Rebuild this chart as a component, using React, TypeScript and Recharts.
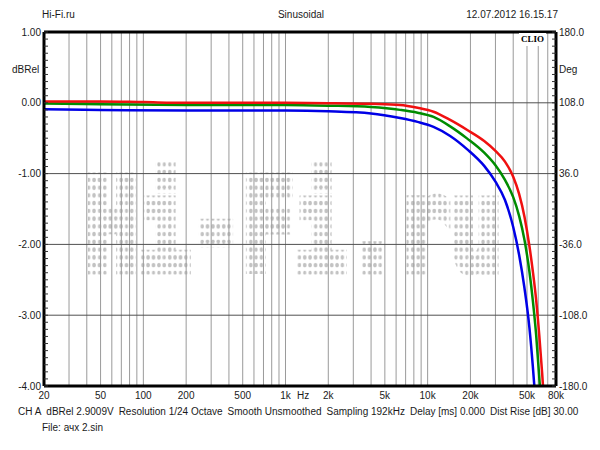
import React from "react";
import { LineChart, Line, XAxis, YAxis, CartesianGrid, ReferenceLine } from "recharts";

// ---- data ----
const redFreq = [20, 50, 100, 200, 1000, 2000, 4000, 6400, 8500, 11000, 14400, 19000, 25000, 30000, 35000, 40000, 44000, 48000, 52000, 55000, 58000, 61000, 63900, 66000, 68000];
const redDb = [0.02, 0.02, 0.01, 0.0, 0.0, -0.005, -0.015, -0.03, -0.07, -0.126, -0.242, -0.384, -0.54, -0.679, -0.831, -1.045, -1.287, -1.609, -2.023, -2.384, -2.784, -3.281, -3.815, -4.24, -4.7];

const greenFreq = [20, 50, 200, 1000, 2000, 4000, 6400, 8500, 11000, 14400, 19000, 25000, 30000, 35000, 40000, 44000, 48000, 52000, 55000, 58000, 61000, 62800, 64000];
const greenDb = [-0.01, -0.02, -0.03, -0.03, -0.04, -0.06, -0.1, -0.14, -0.2, -0.333, -0.506, -0.705, -0.883, -1.09, -1.333, -1.597, -1.936, -2.383, -2.798, -3.278, -3.874, -4.25, -4.6];

const blueFreq = [20, 50, 200, 1000, 2000, 4000, 6400, 8500, 11000, 14400, 19000, 25000, 30000, 35000, 40000, 44000, 48000, 52000, 55000, 56300, 58000];
const blueDb = [-0.09, -0.1, -0.11, -0.11, -0.12, -0.15, -0.215, -0.27, -0.34, -0.468, -0.657, -0.891, -1.114, -1.373, -1.754, -2.145, -2.616, -3.174, -3.729, -3.996, -4.34];

const xGridTicks = [20, 30, 40, 50, 60, 70, 80, 90, 100, 200, 300, 400, 500, 600, 700, 800, 900, 1000, 2000, 3000, 4000, 5000, 6000, 7000, 8000, 9000, 10000, 20000, 30000, 40000, 50000, 60000, 70000, 80000];
const xLabelValues = [20, 50, 100, 200, 500, 1000, 2000, 5000, 10000, 20000, 50000, 80000];
const xLabelTexts = ["20", "50", "100", "200", "500", "1k", "2k", "5k", "10k", "20k", "50k", "80k"];

const leftMajor = [1, 0, -1, -2, -3, -4];
const rightMajor = [180, 108, 36, -36, -108, -180];

const footerItems = [
  "CH A",
  "dBRel 2.9009V",
  "Resolution 1/24 Octave",
  "Smooth Unsmoothed",
  "Sampling 192kHz",
  "Delay [ms] 0.000",
  "Dist Rise [dB] 30.00",
];

const redData = redFreq.map((f, i) => ({ f, db: redDb[i] }));
const greenData = greenFreq.map((f, i) => ({ f, db: greenDb[i] }));
const blueData = blueFreq.map((f, i) => ({ f, db: blueDb[i] }));

const leftTicks: number[] = [];
for (let i = 0; i <= 50; i++) leftTicks.push(Math.round((1 - i * 0.1) * 10) / 10);
const rightTicks: number[] = [];
for (let i = 0; i <= 50; i++) rightTicks.push(Math.round((180 - i * 7.2) * 10) / 10);

const FONT = "'Liberation Sans', Arial, sans-serif";
const TXT = "#1a1a1a";
const MARGIN = 3;

const XTick = (props: any) => {
  const { x, y, payload } = props;
  const idx = xLabelValues.indexOf(payload.value);
  if (idx < 0) return <g />;
  return (
    <text x={x} y={y} dy="0.71em" textAnchor="middle" fontSize={10} fontFamily={FONT} fill={TXT}>
      {xLabelTexts[idx]}
    </text>
  );
};

const LeftTick = (props: any) => {
  const { x, y, payload } = props;
  const v = payload.value;
  const major = leftMajor.some((m) => Math.abs(m - v) < 1e-6);
  const ax = x + MARGIN;
  return (
    <g>
      <line x1={ax} x2={ax + 4} y1={y} y2={y} stroke="#333" strokeWidth={1} />
      {major && (
        <text x={x} y={y} dy="0.355em" textAnchor="end" fontSize={10} fontFamily={FONT} fill={TXT}>
          {v.toFixed(2)}
        </text>
      )}
    </g>
  );
};

const RightTick = (props: any) => {
  const { x, y, payload } = props;
  const v = payload.value;
  const major = rightMajor.some((m) => Math.abs(m - v) < 1e-6);
  const ax = x - MARGIN;
  return (
    <g>
      <line x1={ax} x2={ax - 4} y1={y} y2={y} stroke="#333" strokeWidth={1} />
      {major && (
        <text x={x} y={y} dy="0.355em" textAnchor="start" fontSize={10} fontFamily={FONT} fill={TXT}>
          {v.toFixed(1)}
        </text>
      )}
    </g>
  );
};

const textStyle = (left: number, top: number, extra: any = {}) => ({
  position: "absolute" as const,
  left,
  top,
  fontFamily: FONT,
  fontSize: 10,
  lineHeight: "12px",
  color: TXT,
  whiteSpace: "nowrap" as const,
  ...extra,
});

export default function App() {
  return (
    <div style={{ position: "absolute", left: 0, top: 0, width: 600, height: 450, background: "#fff", overflow: "hidden" }}>
      {/* watermark */}
      <svg width={600} height={450} style={{ position: "absolute", left: 0, top: 0 }}>
        <defs>
          <pattern id="dots" width={5} height={5} patternUnits="userSpaceOnUse">
            <circle cx={2.5} cy={2.5} r={1.45} fill="#c2c2c2" />
          </pattern>
        </defs>
        <g transform="translate(86,269) scale(1.08,1.55)">
          <text x={0} y={0} fontFamily="'DejaVu Sans Mono', 'Liberation Mono', monospace" fontWeight="bold" fontSize={80}
            fill="url(#dots)" stroke="url(#dots)" strokeWidth={7}>
            Hi-Fi.ru
          </text>
        </g>
      </svg>

      <div style={{ position: "absolute", left: 0, top: 0 }}>
        <LineChart width={600} height={450} margin={{ top: 32, right: 0, bottom: 44, left: 0 }}>
          <CartesianGrid horizontal={false} vertical={true} stroke="#9a9a9a" strokeWidth={1} />
          <XAxis
            type="number"
            dataKey="f"
            scale="log"
            domain={[20, 80000]}
            allowDataOverflow
            ticks={xGridTicks}
            interval={0}
            height={20}
            tickSize={0}
            tickMargin={6}
            tick={<XTick />}
            axisLine={{ stroke: "#000", strokeWidth: 3 }}
            tickLine={false}
          />
          <YAxis
            yAxisId="left"
            orientation="left"
            type="number"
            domain={[-4, 1]}
            allowDataOverflow
            ticks={leftTicks}
            interval={0}
            width={44}
            tickSize={0}
            tickMargin={MARGIN}
            tick={<LeftTick />}
            tickLine={false}
            axisLine={{ stroke: "#000", strokeWidth: 3 }}
          />
          <YAxis
            yAxisId="right"
            orientation="right"
            type="number"
            domain={[-180, 180]}
            allowDataOverflow
            ticks={rightTicks}
            interval={0}
            width={44}
            tickSize={0}
            tickMargin={MARGIN}
            tick={<RightTick />}
            tickLine={false}
            axisLine={{ stroke: "#000", strokeWidth: 3 }}
          />
          {leftMajor.slice(1, 5).map((v) => (
            <ReferenceLine key={v} yAxisId="left" y={v} stroke="#505050" strokeWidth={1} />
          ))}
          <ReferenceLine yAxisId="left" y={1} stroke="#000" strokeWidth={3} />
          <Line data={blueData} yAxisId="left" dataKey="db" type="monotone" stroke="#0000e6" strokeWidth={2.5} dot={false} isAnimationActive={false} />
          <Line data={greenData} yAxisId="left" dataKey="db" type="monotone" stroke="#008c00" strokeWidth={2.5} dot={false} isAnimationActive={false} />
          <Line data={redData} yAxisId="left" dataKey="db" type="monotone" stroke="#f01010" strokeWidth={2.5} dot={false} isAnimationActive={false} />
        </LineChart>
      </div>

      {/* header */}
      <div style={textStyle(42, 9)}>Hi-Fi.ru</div>
      <div style={textStyle(251, 9, { width: 100, textAlign: "center" })}>Sinusoidal</div>
      <div style={textStyle(438, 9, { width: 120, textAlign: "right" })}>12.07.2012 16.15.17</div>

      {/* axis captions */}
      <div style={textStyle(12, 64)}>dBRel</div>
      <div style={textStyle(559, 64)}>Deg</div>
      <div style={textStyle(297, 390)}>Hz</div>

      {/* CLIO badge */}
      <div style={{ position: "absolute", left: 519, top: 33, width: 27, height: 13, background: "#fff",
        fontFamily: "'Liberation Serif', 'Times New Roman', serif", fontWeight: "bold", fontSize: 9, lineHeight: "13px",
        textAlign: "center", color: "#000" }}>CLIO</div>

      {/* footer */}
      <div style={textStyle(18, 406, { display: "flex", gap: 5 })}>
        {footerItems.map((t) => (
          <span key={t}>{t}</span>
        ))}
      </div>
      <div style={textStyle(42, 422)}>File: ачх 2.sin</div>
    </div>
  );
}
